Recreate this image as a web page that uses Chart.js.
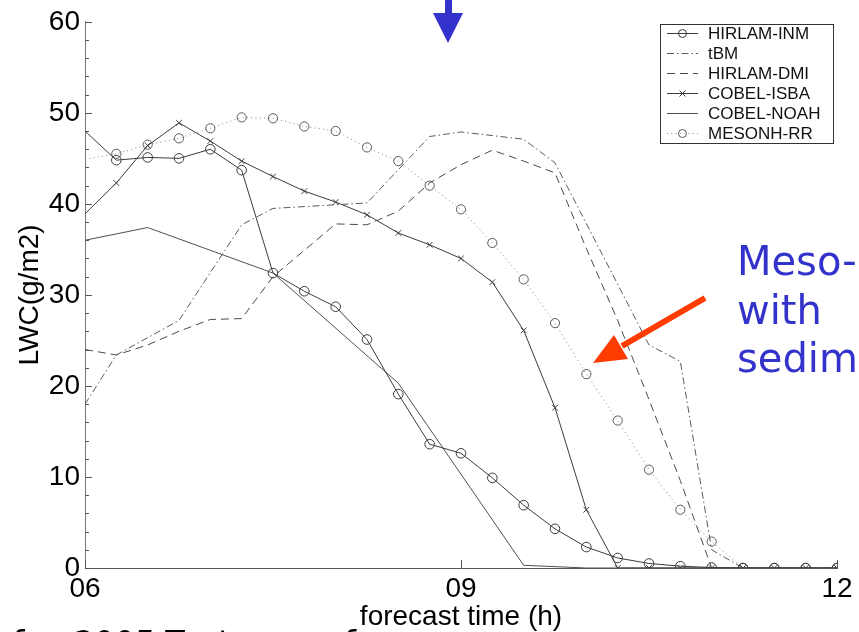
<!DOCTYPE html>
<html>
<head>
<meta charset="utf-8">
<title>LWC forecast</title>
<script src="https://cdn.jsdelivr.net/npm/chart.js@4.4.1/dist/chart.umd.min.js"></script>
<style>
  html, body { margin: 0; padding: 0; background: #fff; overflow: hidden; }
  canvas { display: block; }
</style>
</head>
<body>
<canvas id="lwcChart" width="859" height="632"></canvas>
<script>
// forecast time (h), one value every 15 min
const times = [6, 6.25, 6.5, 6.75, 7, 7.25, 7.5, 7.75, 8, 8.25, 8.5, 8.75, 9,
               9.25, 9.5, 9.75, 10, 10.25, 10.5, 10.75, 11, 11.25, 11.5, 11.75, 12];

// LWC (g/m2)
const hirlamInm = [48.0, 44.8, 45.1, 45.0, 46.0, 43.7, 32.4, 30.4, 28.7, 25.1, 19.1, 13.6, 12.6,
                   9.9, 6.9, 4.3, 2.3, 1.1, 0.5, 0.2, 0.05, 0, 0, 0, 0];
const mesonhRr = [44.9, 45.5, 46.5, 47.2, 48.3, 49.5, 49.4, 48.5, 48.0, 46.2, 44.7, 42.0, 39.4,
                  35.7, 31.7, 26.9, 21.3, 16.2, 10.8, 6.4, 2.9, 0, 0, 0, 0];
const cobelIsba = [38.9, 42.3, 46.4, 48.9, 46.9, 44.7, 43.0, 41.4, 40.2, 38.8, 36.8, 35.5, 34.0,
                   31.4, 26.1, 17.6, 6.4, 0, 0, 0, 0, 0, 0, 0, 0];

// series without markers, only where the curve bends
const noahTimes = [6, 6.5, 7.5, 8.5, 9.5, 10, 12];
const cobelNoah = [36.0, 37.4, 32.4, 20.3, 0.3, 0, 0];

const tbmTimes = [6, 6.25, 6.75, 7.25, 7.5, 8.25, 8.75, 9, 9.25, 9.5, 9.75, 10.5, 10.75, 11, 11.25, 12];
const tbm = [18.0, 23.4, 27.2, 37.7, 39.5, 40.1, 47.4, 47.9, 47.5, 47.1, 44.5, 24.5, 22.7, 2.0, 0, 0];

const dmiTimes = [6, 6.25, 6.5, 6.75, 7, 7.25, 7.5, 8, 8.25, 8.5, 8.75, 9, 9.25, 9.5, 9.75,
                  10, 10.25, 10.5, 10.75, 11, 12];
const hirlamDmi = [24.0, 23.4, 24.5, 26.0, 27.3, 27.4, 32.0, 37.8, 37.7, 39.2, 42.3, 44.3, 45.9,
                   44.7, 43.4, 35.1, 27.2, 18.5, 9.6, 0, 0];

const xTickValues = [6, 9, 12];
const yMax = 60;
const yMajorStep = 10;
const yMinorStep = 2;

const toPoints = (xs, ys) => xs.map((x, i) => ({ x, y: ys[i] }));
// no marker on the first point (sits on the axis in the original)
const hideFirst = (r) => (ctx) => (ctx.dataIndex === 0 ? 0 : r);

Chart.defaults.font.family = '"Liberation Sans", Arial, Helvetica, sans-serif';
Chart.defaults.color = '#000';

// Ticks drawn inside the axes
const innerTicks = {
    id: 'innerTicks',
    afterDatasetsDraw(chart) {
        const { ctx, chartArea, scales: { x, y } } = chart;
        ctx.save();
        ctx.strokeStyle = '#555';
        ctx.lineWidth = 1;
        ctx.beginPath();
        for (let v = 0; v <= yMax; v += yMinorStep) {
            const py = Math.round(y.getPixelForValue(v)) + 0.5;
            const len = v % yMajorStep === 0 ? 7 : 4;
            ctx.moveTo(chartArea.left, py);
            ctx.lineTo(chartArea.left + len, py);
        }
        xTickValues.forEach(v => {
            const px = Math.round(x.getPixelForValue(v)) + 0.5;
            ctx.moveTo(px, chartArea.bottom);
            ctx.lineTo(px, chartArea.bottom - 8);
        });
        ctx.stroke();
        ctx.restore();
    }
};

function drawMarker(ctx, style, cx, cy, r) {
    ctx.beginPath();
    if (style === 'circle') {
        ctx.arc(cx, cy, r, 0, Math.PI * 2);
    } else if (style === 'crossRot') {
        const d = r * 0.75;
        ctx.moveTo(cx - d, cy - d); ctx.lineTo(cx + d, cy + d);
        ctx.moveTo(cx + d, cy - d); ctx.lineTo(cx - d, cy + d);
    }
    ctx.stroke();
}

// Boxed legend, matlab style
const legendBox = {
    id: 'legendBox',
    afterDraw(chart) {
        const { ctx } = chart;
        ctx.save();
        ctx.fillStyle = '#fff';
        ctx.fillRect(660, 24, 173, 119);
        ctx.strokeStyle = '#333';
        ctx.lineWidth = 1;
        ctx.strokeRect(660.5, 24.5, 173, 119);
        ctx.font = '17px "Liberation Sans", Arial, sans-serif';
        ctx.textBaseline = 'middle';
        chart.data.datasets.forEach((ds, i) => {
            const y = 33.5 + i * 20;
            ctx.strokeStyle = ds.borderColor;
            ctx.setLineDash(ds.borderDash || []);
            ctx.beginPath();
            ctx.moveTo(667, y);
            ctx.lineTo(698, y);
            ctx.stroke();
            ctx.setLineDash([]);
            if (ds.pointStyle && ds.legendMarker) {
                ctx.strokeStyle = ds.pointBorderColor;
                drawMarker(ctx, ds.pointStyle, 682.5, y, 4);
            }
            ctx.fillStyle = '#111';
            ctx.fillText(ds.label, 708, y + 1);
        });
        ctx.restore();
    }
};

// Slide annotations around the plot
const slideNotes = {
    id: 'slideNotes',
    afterDraw(chart) {
        const { ctx } = chart;
        ctx.save();
        // blue arrow at the top
        ctx.fillStyle = '#3333cc';
        ctx.fillRect(445, 0, 7, 14);
        ctx.beginPath();
        ctx.moveTo(433, 13); ctx.lineTo(463, 13); ctx.lineTo(448, 43);
        ctx.closePath();
        ctx.fill();

        // red arrow pointing to MESONH-RR
        ctx.strokeStyle = '#ff3c00';
        ctx.fillStyle = '#ff3c00';
        ctx.lineWidth = 6;
        ctx.beginPath();
        ctx.moveTo(705, 298);
        ctx.lineTo(622, 346);
        ctx.stroke();
        ctx.beginPath();
        ctx.moveTo(593, 363); ctx.lineTo(614, 335); ctx.lineTo(628, 359);
        ctx.closePath();
        ctx.fill();

        // blue note, cut by the right edge
        ctx.fillStyle = '#3333cc';
        ctx.font = '40px "Comic Sans MS", "DejaVu Sans", sans-serif';
        ctx.textBaseline = 'alphabetic';
        ctx.fillText('Meso-NH', 737, 275);
        ctx.fillText('with', 737, 324);
        ctx.fillText('sedimentation', 737, 372);

        // slide text below, cut by the bottom edge
        ctx.fillStyle = '#000';
        ctx.font = 'italic 32px "DejaVu Sans", sans-serif';
        ctx.fillText('f', 10, 653);
        ctx.fillText('2005 Test case of', 72, 653);
        ctx.restore();
    }
};

const solid = '#3c3c3c';

new Chart(document.getElementById('lwcChart'), {
    type: 'line',
    data: {
        datasets: [
            {
                label: 'HIRLAM-INM',
                data: toPoints(times, hirlamInm),
                borderColor: solid,
                borderWidth: 1,
                pointStyle: 'circle',
                legendMarker: true,
                pointRadius: hideFirst(4.8),
                pointBorderColor: solid,
                pointBackgroundColor: 'rgba(0,0,0,0)',
                pointBorderWidth: 1
            },
            {
                label: 'tBM',
                data: toPoints(tbmTimes, tbm),
                borderColor: '#5a5a5a',
                borderWidth: 1,
                borderDash: [7, 3, 1.5, 3],
                pointRadius: 0
            },
            {
                label: 'HIRLAM-DMI',
                data: toPoints(dmiTimes, hirlamDmi),
                borderColor: '#4a4a4a',
                borderWidth: 1,
                borderDash: [8, 5],
                pointRadius: 0
            },
            {
                label: 'COBEL-ISBA',
                data: toPoints(times, cobelIsba),
                borderColor: solid,
                borderWidth: 1,
                pointStyle: 'crossRot',
                legendMarker: true,
                pointRadius: hideFirst(4),
                pointBorderColor: solid,
                pointBorderWidth: 1
            },
            {
                label: 'COBEL-NOAH',
                data: toPoints(noahTimes, cobelNoah),
                borderColor: '#505050',
                borderWidth: 1,
                pointRadius: 0
            },
            {
                label: 'MESONH-RR',
                data: toPoints(times, mesonhRr),
                borderColor: '#888',
                borderWidth: 1,
                borderDash: [1, 3.3],
                pointStyle: 'circle',
                legendMarker: true,
                pointRadius: hideFirst(4.6),
                pointBorderColor: '#5a5a5a',
                pointBackgroundColor: 'rgba(0,0,0,0)',
                pointBorderWidth: 1
            }
        ]
    },
    options: {
        responsive: false,
        animation: false,
        devicePixelRatio: 1,
        layout: { padding: { top: 18, right: 22, left: 0, bottom: 0 } },
        plugins: {
            legend: { display: false },
            tooltip: { enabled: false }
        },
        scales: {
            x: {
                type: 'linear',
                min: 6,
                max: 12,
                afterBuildTicks: (axis) => { axis.ticks = xTickValues.map(v => ({ value: v })); },
                afterFit: (scale) => { scale.height = 64; },
                grid: { display: false, drawTicks: false },
                border: { display: true, color: '#555', width: 1 },
                ticks: {
                    padding: 4,
                    maxRotation: 0,
                    font: { size: 28 },
                    callback: (v) => String(v).padStart(2, '0')
                },
                title: {
                    display: true,
                    text: 'forecast time (h)',
                    font: { size: 28, lineHeight: 1 },
                    padding: { top: 0, bottom: 1 }
                }
            },
            y: {
                min: 0,
                max: yMax,
                afterFit: (scale) => { scale.width = 85; },
                grid: { display: false, drawTicks: false },
                border: { display: true, color: '#777', width: 1 },
                ticks: {
                    stepSize: yMajorStep,
                    padding: 5,
                    font: { size: 28 }
                },
                title: {
                    display: true,
                    text: 'LWC(g/m2)',
                    font: { size: 28, lineHeight: 1 },
                    padding: { top: 16, bottom: 0 }
                }
            }
        }
    },
    plugins: [innerTicks, legendBox, slideNotes]
});
</script>
</body>
</html>
